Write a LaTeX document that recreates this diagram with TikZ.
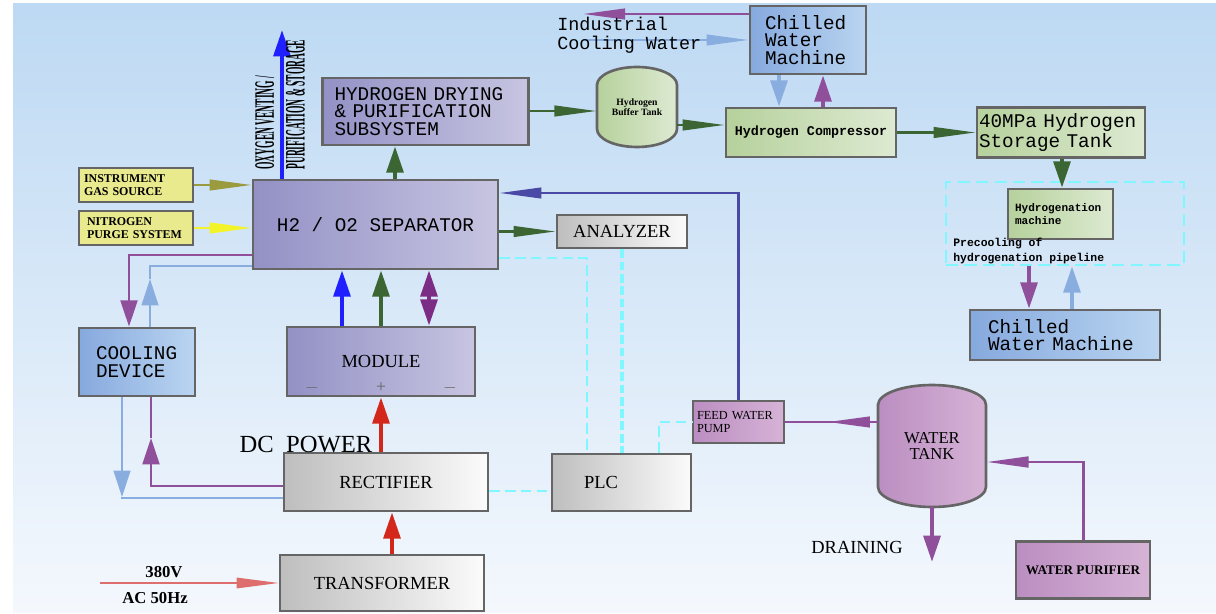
\documentclass[tikz,border=0pt]{standalone}
\usepackage{fontspec}
\setmainfont{Liberation Serif}
\setmonofont{Liberation Mono}
\usetikzlibrary{arrows.meta}
\usetikzlibrary{positioning}
\hyphenpenalty=10000
\exhyphenpenalty=10000

\definecolor{bgtop}{HTML}{BDD9F3}
\definecolor{bgbot}{HTML}{F4F8FD}
\definecolor{edgegray}{HTML}{656565}
\definecolor{sepL}{HTML}{9391C5}
\definecolor{sepR}{HTML}{C7C5E1}
\definecolor{grnL}{HTML}{B6D19C}
\definecolor{grnR}{HTML}{DDEAD2}
\definecolor{bluL}{HTML}{86A9DE}
\definecolor{bluR}{HTML}{BAD5F1}
\definecolor{gryL}{HTML}{BEBEBE}
\definecolor{gryR}{HTML}{FBFBFB}
\definecolor{pnkL}{HTML}{BB8EC1}
\definecolor{pnkR}{HTML}{D6B3D6}
\definecolor{yelbox}{HTML}{E9E98D}
\definecolor{cyanline}{HTML}{80F6FF}
\definecolor{agreen}{HTML}{3B6634}
\definecolor{apurple}{HTML}{8F4F9B}
\definecolor{apurpledk}{HTML}{7B2D86}
\definecolor{alblue}{HTML}{8AADDF}
\definecolor{ablue}{HTML}{2020FF}
\definecolor{ared}{HTML}{D2271A}
\definecolor{asalmon}{HTML}{DE6E6E}
\definecolor{anavy}{HTML}{4A4AA6}
\definecolor{aolive}{HTML}{9A9A3E}
\definecolor{ayellow}{HTML}{F3F32A}

\begin{document}
\begin{tikzpicture}[x=0.02cm,y=-0.02cm,
  >={Triangle[length=15pt,width=9.5pt]},
  blk/.style={draw=edgegray,line width=1.5pt},
  purplebox/.style={blk,left color=sepL,right color=sepR},
  greenbox/.style={blk,left color=grnL,right color=grnR},
  bluebox/.style={blk,left color=bluL,right color=bluR},
  graybox/.style={blk,left color=gryL,right color=gryR},
  pinkbox/.style={blk,left color=pnkL,right color=pnkR},
  yellowbox/.style={blk,fill=yelbox},
  mono/.style={font=\ttfamily\fontsize{11}{10}\selectfont},
  serif/.style={font=\fontsize{10.5}{12}\selectfont},
  pipe/.style={line width=2.3pt,->},
  flow/.style={line width=1.4pt,-{Triangle[length=24pt,width=6pt]}},
  signal/.style={cyanline,line width=1.2pt,dash pattern=on 6pt off 3pt}]

  \useasboundingbox (0,0) rectangle (1216,614);
  \shade[top color=bgtop,bottom color=bgbot] (13,4) rectangle (1216,612);

  \shadedraw[draw=edgegray,line width=1.5pt,left color=grnL,right color=grnR]
    (597,85) -- (597,129) arc[start angle=180,end angle=360,x radius=0.8cm,y radius=0.36cm]
    -- (677,85) arc[start angle=0,end angle=180,x radius=0.8cm,y radius=0.36cm] -- cycle;
  \shadedraw[draw=edgegray,line width=1.5pt,left color=pnkL,right color=pnkR]
    (878,405) -- (878,487) arc[start angle=180,end angle=360,x radius=1.08cm,y radius=0.4cm]
    -- (986,405) arc[start angle=0,end angle=180,x radius=1.08cm,y radius=0.4cm] -- cycle;

  \node[purplebox,mono,minimum width=4.9cm,minimum height=1.78cm] (sep) at (375.5,224.5) {H2 / O2 SEPARATOR};
  \node[purplebox,mono,align=left,text width=3.64cm,inner xsep=0.24cm,minimum height=1.34cm] (dry) at (425.5,111.5) {HYDROGEN DRYING\\\& PURIFICATION\\SUBSYSTEM};
  \node[font=\bfseries\fontsize{5.5}{6}\selectfont,align=center,minimum width=1.6cm,minimum height=1.6cm,inner sep=0pt] (buf) at (637,107) {Hydrogen\\Buffer Tank};
  \node[greenbox,font=\ttfamily\bfseries\fontsize{7.6}{9}\selectfont,minimum width=3.4cm,minimum height=0.98cm] (comp) at (811,132.5) {Hydrogen Compressor};
  \node[bluebox,mono,align=left,text width=1.72cm,inner xsep=0.3cm,minimum height=1.36cm] (chillA) at (808,40) {Chilled\\Water\\Machine};
  \node[greenbox,mono,align=left,text width=3.28cm,inner xsep=0.04cm,minimum height=0.98cm] (store) at (1061,132.5) {40MPa Hydrogen\\Storage Tank};
  \node[draw=cyanline,line width=1.5pt,dash pattern=on 7pt off 3.5pt,minimum width=4.76cm,minimum height=1.66cm] (pre) at (1065,223.5) {};
  \node[greenbox,font=\ttfamily\bfseries\fontsize{6.3}{7.2}\selectfont,align=left,text width=1.82cm,inner xsep=0.14cm,minimum height=1.0cm] (hydro) at (1060.5,214) {Hydrogenation\\machine};
  \node[anchor=west,font=\ttfamily\bfseries\fontsize{6.5}{8.5}\selectfont,align=left,inner sep=0pt] (prelbl) at (953,251) {Precooling of\\hydrogenation pipeline};
  \node[bluebox,mono,align=left,text width=3.08cm,inner xsep=0.36cm,minimum height=1.0cm] (chillB) at (1065,335) {Chilled\\Water Machine};
  \node[graybox,serif,minimum width=2.6cm,minimum height=0.66cm] (ana) at (622,231.5) {ANALYZER};
  \node[graybox,serif,align=left,text width=1.5cm,inner xsep=0.64cm,minimum height=1.14cm] (plc) at (621.5,482.5) {PLC};
  \node[pinkbox,font=\fontsize{7}{7}\selectfont,align=left,text width=1.66cm,inner xsep=0.08cm,minimum height=0.84cm] (pump) at (738.5,422) {FEED WATER\\PUMP};
  \node[font=\fontsize{9.5}{9}\selectfont,align=center,minimum width=2.16cm,minimum height=2.44cm,inner sep=0pt] (tank) at (932,446) {WATER\\TANK};
  \node[pinkbox,font=\bfseries\fontsize{7.5}{9}\selectfont,minimum width=2.68cm,minimum height=1.14cm] (pur) at (1083,570) {WATER PURIFIER};
  \node[bluebox,mono,align=left,text width=1.64cm,inner xsep=0.34cm,minimum height=1.36cm] (cool) at (137,362) {COOLING\\DEVICE};
  \node[purplebox,serif,minimum width=3.76cm,minimum height=1.38cm] (mod) at (381,361.5) {MODULE};
  \node[graybox,serif,minimum width=4.08cm,minimum height=1.16cm] (rect) at (386,482) {RECTIFIER};
  \node[graybox,serif,minimum width=4.08cm,minimum height=1.12cm] (trans) at (382,583) {TRANSFORMER};
  \node[yellowbox,font=\bfseries\fontsize{6.8}{7.5}\selectfont,align=left,text width=2.08cm,inner xsep=0.1cm,minimum height=0.68cm] (inst) at (136,185) {INSTRUMENT\\GAS SOURCE};
  \node[yellowbox,font=\bfseries\fontsize{6.8}{7.5}\selectfont,align=left,text width=1.96cm,inner xsep=0.16cm,minimum height=0.68cm] (nit) at (136,228) {NITROGEN\\PURGE SYSTEM};

  \node[edgegray,font=\fontsize{10}{12}\selectfont] (mneg) at (312,388) {$-$};
  \node[edgegray,font=\fontsize{10}{12}\selectfont] (mpos) at (381,388) {+};
  \node[edgegray,font=\fontsize{10}{12}\selectfont] (mnegb) at (450,388) {$-$};

  \coordinate (oxtop) at (282,30);
  \coordinate (icwout) at (583,14);
  \coordinate (icwin) at (583,40);
  \coordinate (drn) at (932,562);
  \coordinate (acin) at (100,583);

  \draw[pipe,ablue] (sep.north -| oxtop) -- (oxtop);
  \draw[pipe,agreen] (sep.north -| 395,0) -- (dry.south -| 395,0);
  \draw[flow,agreen] (dry.east |- 0,111) -- (buf.west |- 0,111);
  \draw[flow,agreen] (buf.east |- 0,125) -- (comp.west |- 0,125);
  \draw[flow,agreen] (comp.east) -- (store.west);
  \draw[pipe,alblue] (chillA.south -| 779,0) -- (comp.north -| 779,0);
  \draw[pipe,apurple] (comp.north -| 823,0) -- (chillA.south -| 823,0);
  \draw[flow,apurple] (chillA.west |- icwout) -- (icwout);
  \draw[flow,alblue] (icwin) -- (chillA.west |- icwin);
  \draw[pipe,agreen] (store.south -| 1062,0) -- (hydro.north -| 1062,0);
  \draw[pipe,apurple] (pre.south -| 1029,0) -- (chillB.north -| 1029,0);
  \draw[pipe,alblue] (chillB.north -| 1072,0) -- (pre.south -| 1072,0);
  \draw[flow,aolive] (inst.east) -- (inst.east -| sep.west);
  \draw[flow,ayellow] (nit.east) -- (nit.east -| sep.west);

  \draw[apurple,line width=1.7pt,->] (sep.west |- 0,255) -| (cool.north -| 129,0);
  \draw[alblue,line width=1.1pt,->] (cool.north -| 150,0) -- (150,279);
  \draw[alblue,line width=1.1pt] (150,279) |- (sep.west |- 0,266);
  \draw[alblue,line width=1.1pt,->] (cool.south -| 122,0) -- (122,497);
  \draw[alblue,line width=1.1pt] (122,497) |- (rect.west |- 0,498);
  \draw[apurple,line width=1.7pt,->] (rect.west |- 0,486) -| (151,438);
  \draw[apurple,line width=1.7pt] (151,438) -- (cool.south -| 151,0);

  \draw[pipe,ablue] (mod.north -| 342,0) -- (sep.south -| 342,0);
  \draw[pipe,agreen] (mod.north -| 381,0) -- (sep.south -| 381,0);
  \draw[pipe,apurpledk,<->] (mod.north -| 429,0) -- (sep.south -| 429,0);
  \draw[pipe,ared] (rect.north -| 381,0) -- (mod.south -| 381,0);
  \draw[pipe,ared] (trans.north -| 392,0) -- (rect.south -| 392,0);
  \draw[flow,asalmon,line width=0.8pt] (acin) -- (trans.west |- acin);

  \draw[flow,agreen] (sep.east |- ana.west) -- (ana.west);
  \draw[signal] (rect.east |- 0,491) -- (plc.west |- 0,491);
  \draw[signal] (sep.east |- 0,258) -| (plc.north -| 587,0);
  \draw[signal,line width=2.2pt,dash pattern=on 5pt off 2pt] (ana.south) -- (plc.north -| ana.south);
  \draw[signal] (plc.north -| 659,0) |- (pump.west);
  \draw[flow,anavy] (pump.north) |- (sep.east |- 0,193);

  \draw[apurple,line width=1.7pt] (pump.east) -- (pump.east -| tank.west);
  \draw[flow,apurple] (pump.east -| tank.west) -- ++(-50,0);
  \draw[flow,apurple,line width=1.7pt] (pur.north) |- (tank.east |- 0,462);
  \draw[pipe,apurple] (tank.south) -- (drn);

  \node[font=\fontsize{14}{16}\selectfont] (dcpow) at (306,445) {DC\ \ POWER};
  \node[font=\bfseries\fontsize{9.5}{11}\selectfont] (volt) at (164,572) {380V};
  \node[font=\bfseries\fontsize{9.5}{11}\selectfont] (freq) at (155,598) {AC 50Hz};
  \node[font=\fontsize{10.5}{12}\selectfont] (drain) at (857,547) {DRAINING};
  \node[anchor=west,font=\ttfamily\fontsize{10.5}{10.8}\selectfont,align=left,inner sep=0pt] (icw) at (557,35) {Industrial\\Cooling Water};
  \node[rotate=90,anchor=west,inner sep=0pt] (oxlbl) at (283,170) {\scalebox{0.34}[1]{\fontsize{16}{17.5}\bfseries\selectfont\begin{tabular}{@{}l@{}}OXYGEN VENTING /\\PURIFICATION \& STORAGE\end{tabular}}};
\end{tikzpicture}
\end{document}
